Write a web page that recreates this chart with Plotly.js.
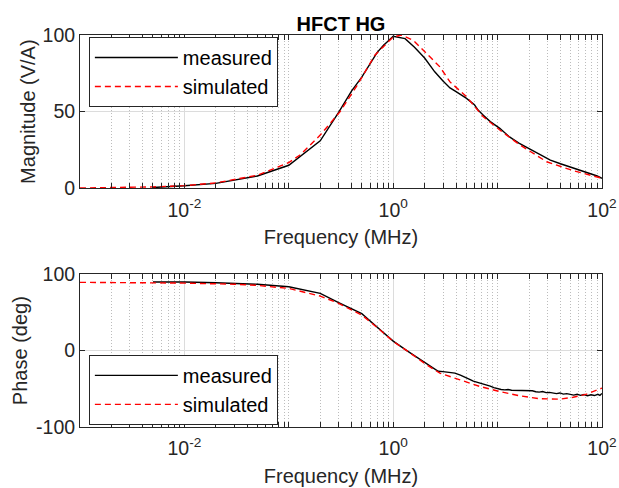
<!DOCTYPE html>
<html><head><meta charset="utf-8">
<script src="https://cdn.plot.ly/plotly-3.0.1.min.js"></script>
<style>html,body{margin:0;padding:0;background:#fff}#chart{width:619px;height:488px}</style>
</head><body><div id="chart"></div>
<script>
// ---- data ----
const seriesNames = ['measured', 'simulated'];
const magMeasFreq = [0.005, 0.01, 0.02, 0.05, 0.1, 0.2, 0.3, 0.4, 0.5, 0.6, 0.7, 0.8, 0.9, 1.0, 1.3, 1.6, 2.0, 2.5, 3.0, 3.5, 4.0, 5.0, 6.0, 6.5, 7.3, 8.5, 10.5, 13, 16, 20, 25, 32, 40, 53, 65, 77, 90, 100];
const magMeasVal  = [0.5, 1.6, 3.2, 8.0, 15.0, 31.0, 49.5, 63.5, 72.5, 81, 88.5, 93, 96.5, 99.2, 97.6, 92, 85, 76, 70, 65.5, 63, 58.8, 54.5, 51, 47.7, 43.5, 39.1, 33.5, 29.5, 25.8, 22, 18.4, 16, 13.4, 11.5, 9.8, 8, 6.5];
const magSimFreq = [0.001, 0.002, 0.005, 0.01, 0.02, 0.05, 0.08, 0.1, 0.128, 0.2, 0.31, 0.45, 0.67, 1.0, 1.2, 1.56, 2.09, 2.8, 3.5, 5.06, 7.3, 10.5, 16.4, 29.5, 53, 100];
const magSimVal  = [0.15, 0.35, 0.9, 1.7, 3.5, 8.5, 14, 16.8, 21.7, 34.7, 50, 67, 87, 98.7, 100, 96.5, 87.9, 79.2, 69.4, 59.6, 46.6, 38, 28.2, 17.3, 11.5, 6.5];
const phMeasFreq = [0.005, 0.01, 0.02, 0.05, 0.1, 0.2, 0.3, 0.5, 0.7, 1.0, 1.35, 2.09, 2.7, 3.0, 3.5, 3.9, 4.4, 4.9, 5.4, 5.85, 6.4, 7.0, 7.85, 8.5, 9.2, 10, 10.8, 11.7, 12.6, 13.6, 14.7, 15.8, 17.1, 18.4, 19.9, 21.5, 23.2, 25.0, 27.0, 29.1, 31.4, 33.9, 36.6, 39.5, 42.6, 46.0, 49.6, 53.6, 57.8, 62.4, 67.3, 72.6, 78.4, 84.6, 91.3, 95.5, 100];
const phMeasVal  = [90, 90, 89, 87, 83.7, 75, 63, 48.5, 31, 12.5, 0, -16.5, -27, -27.5, -28.2, -29.5, -32, -34.5, -37.5, -40, -41.5, -42.5, -44.8, -46.5, -48.5, -50.2, -50.8, -51.3, -50.9, -51.8, -52.0, -52.6, -51.9, -52.9, -53.1, -52.6, -53.8, -54.3, -53.5, -55.0, -54.6, -55.8, -56.2, -55.4, -56.9, -56.3, -57.4, -58.2, -57.1, -58.6, -57.5, -59.0, -57.8, -58.8, -57.2, -58.5, -56.0];
const phSimFreq = [0.001, 0.01, 0.03, 0.05, 0.1, 0.2, 0.3, 0.5, 0.7, 1.0, 1.35, 2.09, 2.8, 3.0, 4.37, 6.8, 10.5, 16.4, 25.5, 40, 53, 71, 87, 100];
const phSimVal  = [89.5, 88.5, 87, 85.5, 81.5, 71.5, 62, 46.7, 30.5, 12, 0, -18.5, -29.5, -31, -38.3, -47, -53.6, -59.2, -63, -63.5, -61, -57, -52.7, -49];
const xTickVals = [0.01, 1, 100];
const xTickText = ['10<sup>-2</sup>', '10<sup>0</sup>', '10<sup>2</sup>'];
const magTickVals = [0, 50, 100];
const magTickText = ['0', '50', '100'];
const phTickVals = [-100, 0, 100];
const phTickText = ['-100', '0', '100'];

// ---- styling ----
const axisColor = '#262626';
const fontFam = '"Liberation Sans", Arial, Helvetica, sans-serif';
const minorVals = [];
for (let k = -3; k <= 1; k++) for (let m = 1; m <= 9; m++) {
  const v = m * Math.pow(10, k);
  if (!xTickVals.some(t => Math.abs(t - v) / v < 1e-9)) minorVals.push(v);
}
function xAxis(anchor) {
  return {
    type: 'log', range: [-3, 2], anchor: anchor, domain: [0, 1],
    tickmode: 'array', tickvals: xTickVals, ticktext: xTickText,
    ticks: 'inside', ticklen: 5, tickwidth: 1, tickcolor: axisColor, ticklabelstandoff: 4,
    showline: true, linecolor: axisColor, linewidth: 1, mirror: 'ticks',
    showgrid: true, gridcolor: '#dcdcdc', gridwidth: 1, zeroline: false,
    minor: {tickmode: 'array', tickvals: minorVals, ticks: 'inside', ticklen: 5, tickwidth: 1,
            tickcolor: axisColor, showgrid: true, gridcolor: '#bcbcbc', griddash: '1px,2px', gridwidth: 1},
    tickfont: {size: 19.5, color: axisColor, family: fontFam},
    title: {text: 'Frequency (MHz)', font: {size: 20, color: axisColor, family: fontFam}, standoff: 10}
  };
}
function yAxis(anchor, domain, range, tv, tt, title, standoff) {
  return {
    anchor: anchor, domain: domain, range: range, tickmode: 'array', tickvals: tv, ticktext: tt,
    ticks: 'inside', ticklen: 5, tickwidth: 1, tickcolor: axisColor,
    showline: true, linecolor: axisColor, linewidth: 1, mirror: 'ticks',
    showgrid: true, gridcolor: '#dcdcdc', gridwidth: 1, zeroline: false,
    tickfont: {size: 19.5, color: axisColor, family: fontFam},
    title: {text: title, font: {size: 20, color: axisColor, family: fontFam}, standoff: standoff}
  };
}
const measLine = {color: '#000000', width: 1.4};
const simLine = {color: '#ff0000', width: 1.4, dash: '6px,4px'};

const traces = [
  {x: magMeasFreq, y: magMeasVal, name: seriesNames[0], type: 'scatter', mode: 'lines', line: measLine, xaxis: 'x', yaxis: 'y', legend: 'legend'},
  {x: magSimFreq, y: magSimVal, name: seriesNames[1], type: 'scatter', mode: 'lines', line: simLine, xaxis: 'x', yaxis: 'y', legend: 'legend'},
  {x: phMeasFreq, y: phMeasVal, name: seriesNames[0], type: 'scatter', mode: 'lines', line: measLine, xaxis: 'x2', yaxis: 'y2', legend: 'legend2'},
  {x: phSimFreq, y: phSimVal, name: seriesNames[1], type: 'scatter', mode: 'lines', line: simLine, xaxis: 'x2', yaxis: 'y2', legend: 'legend2'}
];
const legendBase = {xref: 'paper', yref: 'paper', xanchor: 'left', yanchor: 'middle', bgcolor: '#ffffff',
  bordercolor: axisColor, borderwidth: 1, font: {size: 20, color: '#000', family: fontFam},
  itemwidth: 83, tracegroupgap: 0};
const layout = {
  width: 619, height: 488, paper_bgcolor: '#ffffff', plot_bgcolor: '#ffffff',
  margin: {l: 80, r: 17, t: 35, b: 61},
  font: {family: fontFam, color: axisColor},
  title: {text: '<b>HFCT HG</b>', font: {size: 20, color: '#000', family: fontFam},
          xref: 'paper', x: 0.5, xanchor: 'center', yref: 'container', y: 0.95, yanchor: 'middle'},
  showlegend: true,
  xaxis: xAxis('y'),
  yaxis: yAxis('x', [0.609, 1], [0, 100], magTickVals, magTickText, 'Magnitude (V/A)', 1),
  xaxis2: xAxis('y2'),
  yaxis2: yAxis('x2', [0, 0.3895], [-100, 100], phTickVals, phTickText, 'Phase (deg)', 3),
  legend: Object.assign({}, legendBase, {x: 0.017, y: 0.9056}),
  legend2: Object.assign({}, legendBase, {x: 0.017, y: 0.0946})
};
Plotly.newPlot('chart', traces, layout, {staticPlot: true, displayModeBar: false});
</script></body></html>
